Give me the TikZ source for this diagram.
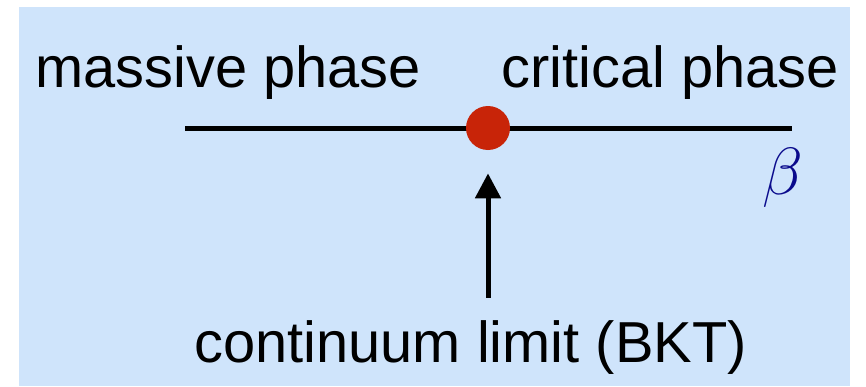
\RequirePackage{fix-cm}
\documentclass[tikz,border=0pt]{standalone}
\usepackage{fontspec}
\setmainfont{Liberation Sans}
\usetikzlibrary{arrows.meta}
\definecolor{panelblue}{RGB}{207,228,251}
\definecolor{dotred}{RGB}{200,36,8}
\definecolor{betablue}{RGB}{10,10,140}
\begin{document}
\begin{tikzpicture}[
  x=0.02cm, y=-0.02cm,
  lbl/.style={anchor=base west, inner sep=0pt, font=\fontsize{32.9}{36}\selectfont},
  phaseline/.style={line width=0.1cm},
  crit/.style={circle, fill=dotred, minimum size=0.88cm, inner sep=0pt},
  arr/.style={-{Triangle[length=0.5cm, width=0.5cm]}, line width=0.1cm, shorten <=0.44cm, shorten >=0.46cm}
]
\useasboundingbox (0,0) rectangle (866,386);
\fill[panelblue] (19,7) rectangle (850,386);

\node[lbl] (massive) at (35,87) {massive phase};
\node[lbl] (critical) at (501,87) {critical phase};
\node[lbl] (limit) at (194,362) {continuum limit (BKT)};
\node[text=betablue, font=\fontsize{38}{42}\selectfont] (beta) at (783,178) {$\beta$};

\coordinate (lineL) at (185,128);
\coordinate (lineR) at (792,128);
\draw[phaseline] (lineL) -- (lineR);
\node[crit] (dot) at (488,128) {};

\draw[arr] (limit.north -| dot) -- (dot.south);
\end{tikzpicture}
\end{document}
